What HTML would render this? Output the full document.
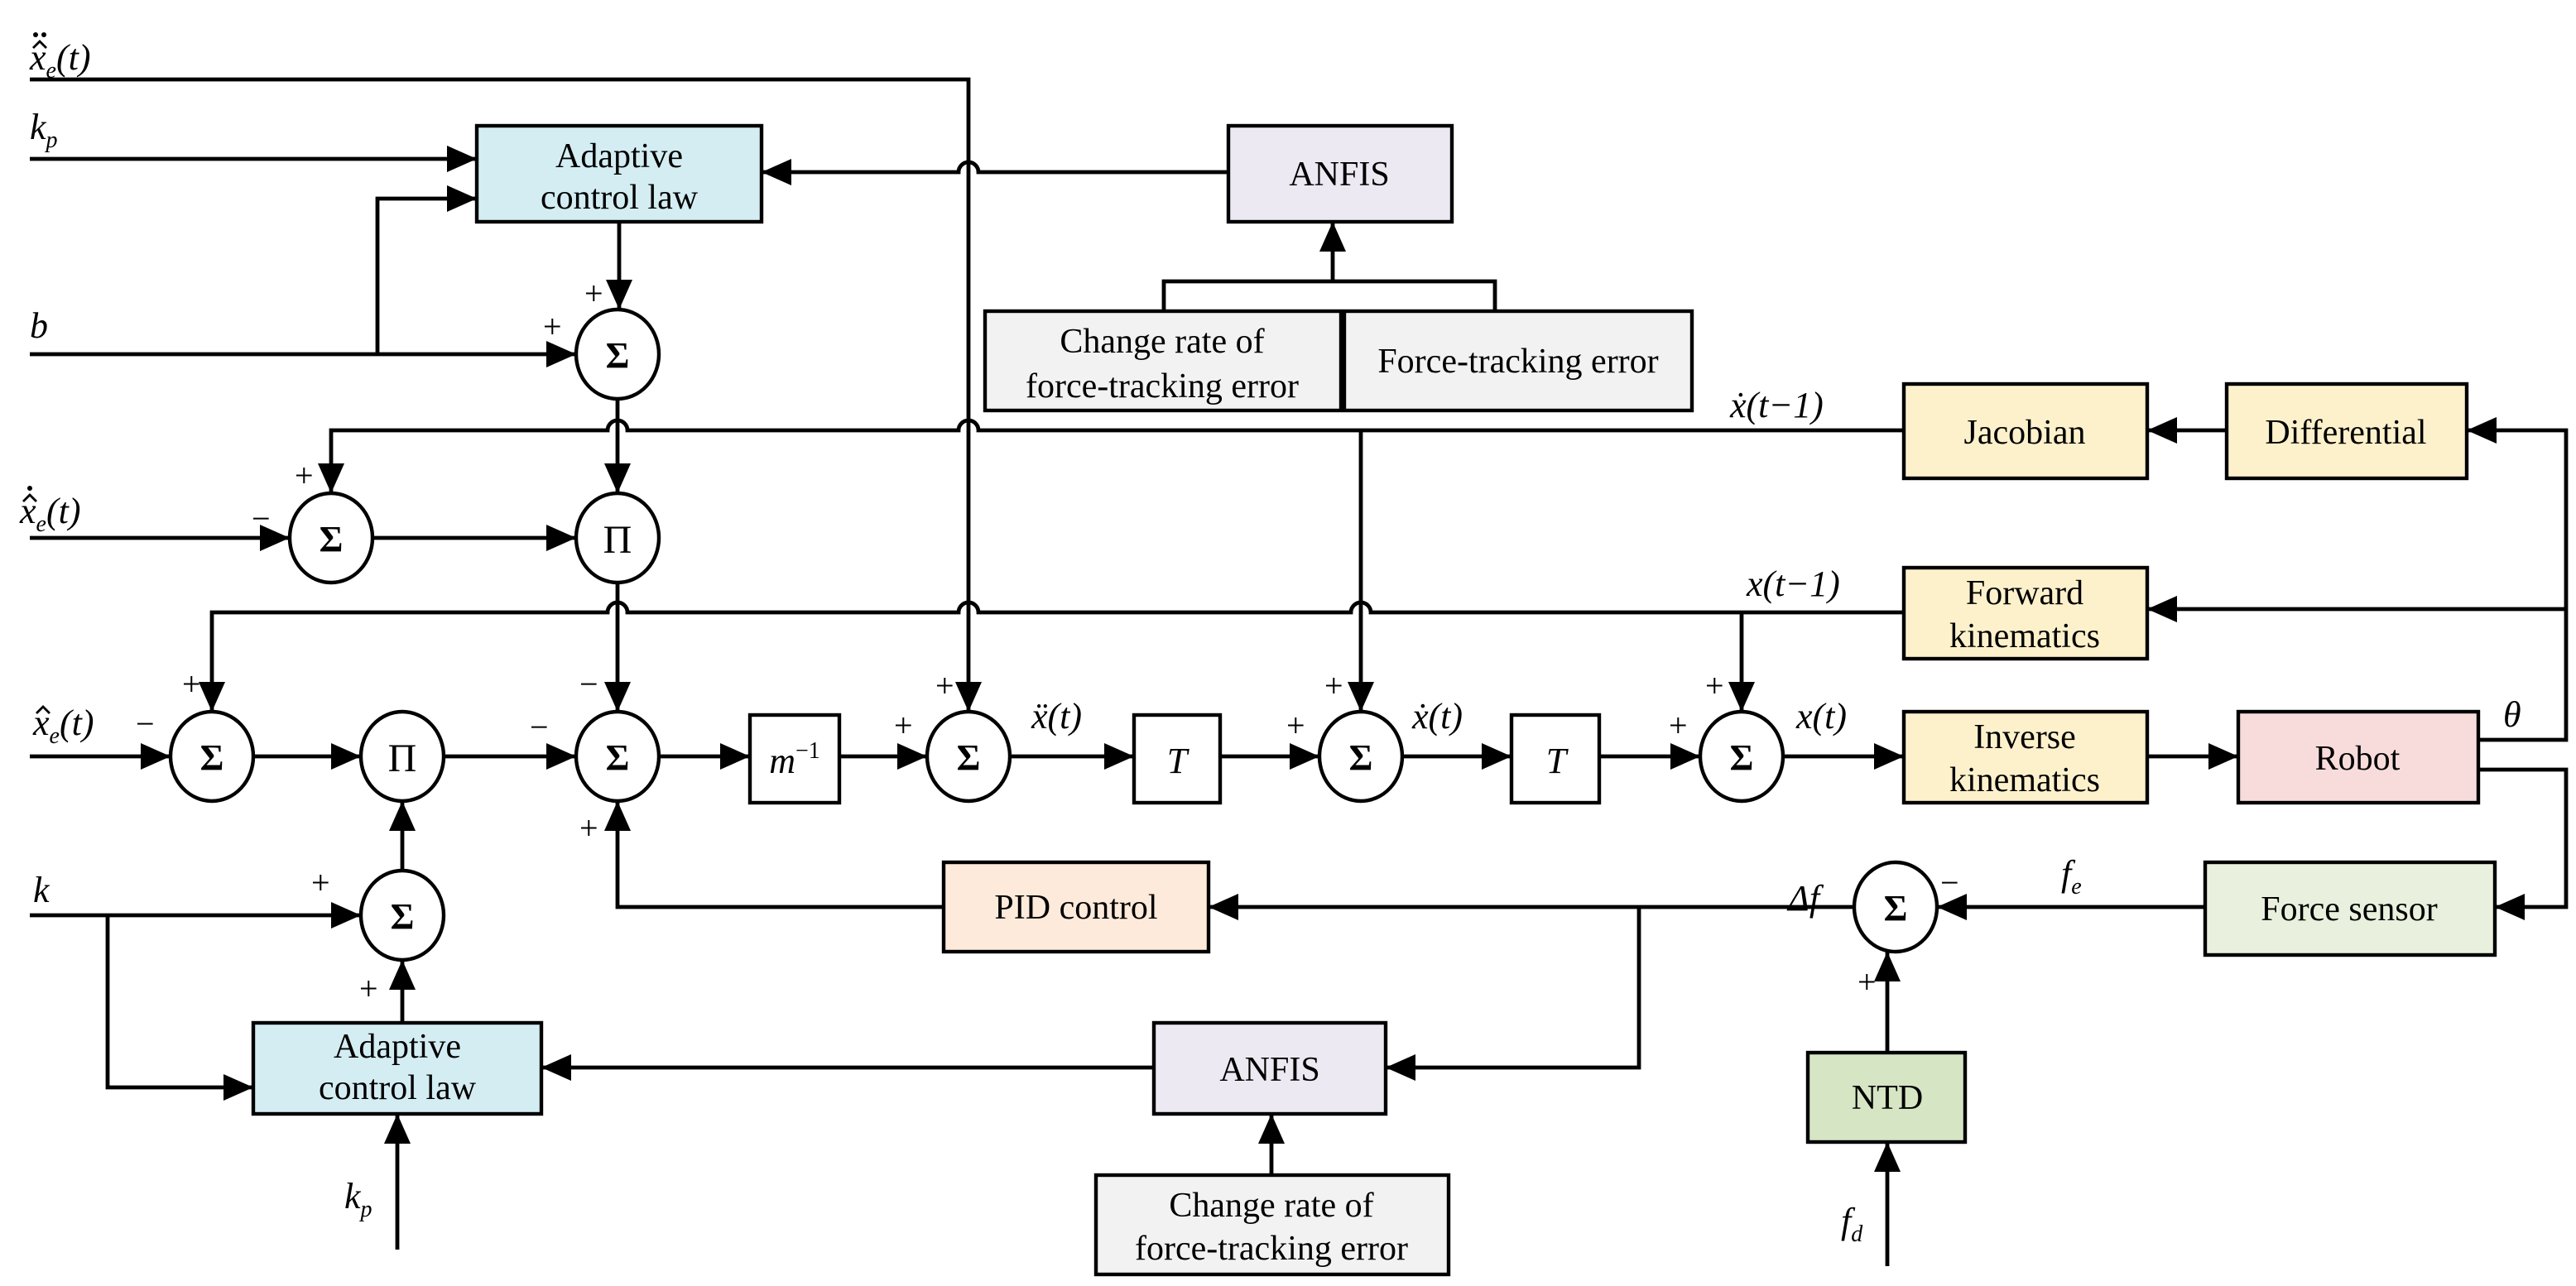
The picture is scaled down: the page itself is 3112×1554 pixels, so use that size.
<!DOCTYPE html>
<html><head><meta charset="utf-8"><style>
html,body{margin:0;padding:0;background:#fff;}
svg{display:block;}
text{font-family:"Liberation Serif",serif;fill:#000;}
.b{font-size:21px;text-anchor:middle;}
.m{font-style:italic;font-size:22px;}
.s{font-size:20px;}
.op{font-family:"Liberation Sans",sans-serif;font-weight:bold;font-size:22px;text-anchor:middle;}
</style></head><body>
<svg width="3112" height="1554" viewBox="0 0 1556 777" xmlns="http://www.w3.org/2000/svg">
<defs><marker id="a" markerUnits="userSpaceOnUse" markerWidth="18" markerHeight="16" refX="18" refY="8" orient="auto"><path d="M0,0 L18,8 L0,16 z" fill="#000"/></marker></defs>
<g fill="none" stroke="#000" stroke-width="2.4" marker-end="url(#a)">
<path d="M18,48 H585 V430"/>
<path d="M18,96 H288"/>
<path d="M18,214 H348"/>
<path d="M228,214 V120 H288"/>
<path d="M374,134 V187"/>
<path d="M742,104 H591 a6,6 0 0 0 -12,0 H460"/>
<path d="M805,170 V134"/>
<path d="M373,241 V298"/>
<path d="M1150,260 H591 a6,6 0 0 0 -12,0 H379 a6,6 0 0 0 -12,0 H200 V298"/>
<path d="M822,260 V430"/>
<path d="M1345,260 H1297"/>
<path d="M1497,447 H1550 V260 H1490"/>
<path d="M1550,368 H1297"/>
<path d="M18,325 H175"/>
<path d="M225,325 H348"/>
<path d="M373,352 V430"/>
<path d="M1150,370 H828 a6,6 0 0 0 -12,0 H591 a6,6 0 0 0 -12,0 H379 a6,6 0 0 0 -12,0 H128 V430"/>
<path d="M1052,370 V430"/>
<path d="M18,457 H103"/><path d="M153,457 H218"/><path d="M268,457 H348"/><path d="M398,457 H453"/>
<path d="M507,457 H560"/><path d="M610,457 H685"/><path d="M737,457 H797"/><path d="M847,457 H913"/>
<path d="M966,457 H1027"/><path d="M1077,457 H1150"/><path d="M1297,457 H1352"/>
<path d="M1497,465 H1550 V548 H1507"/>
<path d="M1332,548 H1170"/>
<path d="M1120,548 H730"/>
<path d="M570,548 H373 V484"/>
<path d="M990,548 V645 H837"/>
<path d="M697,645 H327"/>
<path d="M768,710 V673"/>
<path d="M1140,636 V575"/>
<path d="M1140,765 V690"/>
<path d="M18,553 H218"/>
<path d="M65,553 V657 H153"/>
<path d="M243,526 V484"/>
<path d="M243,618 V580"/>
<path d="M240,755 V673"/>
</g>
<path d="M703,188 V170 H903 V188" fill="none" stroke="#000" stroke-width="2.4"/>
<g stroke="#000" stroke-width="2.2">
<rect x="288" y="76" width="172" height="58" fill="#d4edf3"/>
<rect x="742" y="76" width="135" height="58" fill="#ede9f2"/>
<rect x="595" y="188" width="215" height="60" fill="#f2f2f2"/>
<rect x="812" y="188" width="210" height="60" fill="#f2f2f2"/>
<rect x="1150" y="232" width="147" height="57" fill="#fdf1cc"/>
<rect x="1345" y="232" width="145" height="57" fill="#fdf1cc"/>
<rect x="1150" y="343" width="147" height="55" fill="#fdf1cc"/>
<rect x="1150" y="430" width="147" height="55" fill="#fdf1cc"/>
<rect x="1352" y="430" width="145" height="55" fill="#f8dcdc"/>
<rect x="1332" y="521" width="175" height="56" fill="#e9f1de"/>
<rect x="570" y="521" width="160" height="54" fill="#fdeadb"/>
<rect x="697" y="618" width="140" height="55" fill="#ede9f2"/>
<rect x="153" y="618" width="174" height="55" fill="#d4edf3"/>
<rect x="662" y="710" width="213" height="60" fill="#f2f2f2"/>
<rect x="1092" y="636" width="95" height="54" fill="#d6e5c4"/>
<rect x="453" y="432" width="54" height="53" fill="#fff"/>
<rect x="685" y="432" width="52" height="53" fill="#fff"/>
<rect x="913" y="432" width="53" height="53" fill="#fff"/>
<g fill="#fff">
<ellipse cx="373" cy="214" rx="25" ry="27"/>
<ellipse cx="200" cy="325" rx="25" ry="27"/>
<ellipse cx="373" cy="325" rx="25" ry="27"/>
<ellipse cx="128" cy="457" rx="25" ry="27"/>
<ellipse cx="243" cy="457" rx="25" ry="27"/>
<ellipse cx="373" cy="457" rx="25" ry="27"/>
<ellipse cx="585" cy="457" rx="25" ry="27"/>
<ellipse cx="822" cy="457" rx="25" ry="27"/>
<ellipse cx="1052" cy="457" rx="25" ry="27"/>
<ellipse cx="1145" cy="548" rx="25" ry="27"/>
<ellipse cx="243" cy="553" rx="25" ry="27"/>
</g>
</g>
<g class="op">
<text x="373" y="222">Σ</text><text x="200" y="333">Σ</text><text x="373" y="334" style="font-family:'Liberation Serif',serif;font-weight:normal;font-size:24px">Π</text>
<text x="128" y="465">Σ</text><text x="243" y="466" style="font-family:'Liberation Serif',serif;font-weight:normal;font-size:24px">Π</text>
<text x="373" y="465">Σ</text><text x="585" y="465">Σ</text><text x="822" y="465">Σ</text><text x="1052" y="465">Σ</text>
<text x="1145" y="556">Σ</text><text x="243" y="561">Σ</text>
</g>
<g class="b">
<text x="374" y="101">Adaptive</text><text x="374" y="126">control law</text>
<text x="809" y="112">ANFIS</text>
<text x="702" y="213">Change rate of</text><text x="702" y="240">force-tracking error</text>
<text x="917" y="225">Force-tracking error</text>
<text x="1223" y="268">Jacobian</text>
<text x="1417" y="268">Differential</text>
<text x="1223" y="365">Forward</text><text x="1223" y="391">kinematics</text>
<text x="1223" y="452">Inverse</text><text x="1223" y="478">kinematics</text>
<text x="1424" y="465">Robot</text>
<text x="1419" y="556">Force sensor</text>
<text x="650" y="555">PID control</text>
<text x="767" y="653">ANFIS</text>
<text x="240" y="639">Adaptive</text><text x="240" y="664">control law</text>
<text x="768" y="735">Change rate of</text><text x="768" y="761">force-tracking error</text>
<text x="1140" y="670">NTD</text>
<text x="480" y="467" class="m" style="text-anchor:middle">m<tspan dy="-9" font-size="14" font-style="normal">−1</tspan></text>
<text x="711" y="467" class="m" style="text-anchor:middle">T</text>
<text x="940" y="467" class="m" style="text-anchor:middle">T</text>
</g>
<g class="m">
<text x="18" y="42">x<tspan font-size="14" dy="5">e</tspan><tspan dy="-5">(t)</tspan></text>
<text x="18" y="84">k<tspan font-size="14" dy="5">p</tspan></text>
<text x="18" y="204">b</text>
<text x="12" y="316">x<tspan font-size="14" dy="5">e</tspan><tspan dy="-5">(t)</tspan></text>
<text x="20" y="444">x<tspan font-size="14" dy="5">e</tspan><tspan dy="-5">(t)</tspan></text>
<text x="20" y="545">k</text>
<text x="208" y="730">k<tspan font-size="14" dy="5">p</tspan></text>
<text x="1112" y="745">f<tspan font-size="14" dy="5">d</tspan></text>
<text x="1245" y="535">f<tspan font-size="14" dy="5">e</tspan></text>
<text x="1080" y="550">Δf</text>
<text x="1512" y="439">θ</text>
<text x="623" y="440">ẍ(t)</text>
<text x="853" y="440">ẋ(t)</text>
<text x="1085" y="440">x(t)</text>
<text x="1045" y="252">ẋ(t−1)</text>
<text x="1055" y="360">x(t−1)</text>
</g>
<g fill="none" stroke="#000" stroke-width="1.4">
<path d="M20,29 L24,25 L28,29"/>
<path d="M14,303 L18,299 L22,303"/>
<path d="M22,431 L26,427 L30,431"/>
</g>
<g fill="#000">
<circle cx="21.5" cy="21" r="1.5"/><circle cx="26.5" cy="21" r="1.5"/>
<circle cx="18" cy="295" r="1.5"/>
</g>
<g class="s">
<text x="353" y="184">+</text><text x="328" y="204">+</text>
<text x="178" y="294">+</text><text x="152" y="320">−</text>
<text x="110" y="420">+</text><text x="82" y="444">−</text>
<text x="320" y="446">−</text><text x="350" y="420">−</text><text x="350" y="507">+</text>
<text x="540" y="445">+</text><text x="565" y="421">+</text>
<text x="777" y="445">+</text><text x="800" y="421">+</text>
<text x="1008" y="445">+</text><text x="1030" y="421">+</text>
<text x="1172" y="540">−</text><text x="1122" y="600">+</text>
<text x="188" y="540">+</text><text x="217" y="604">+</text>
</g>
</svg>
</body></html>
